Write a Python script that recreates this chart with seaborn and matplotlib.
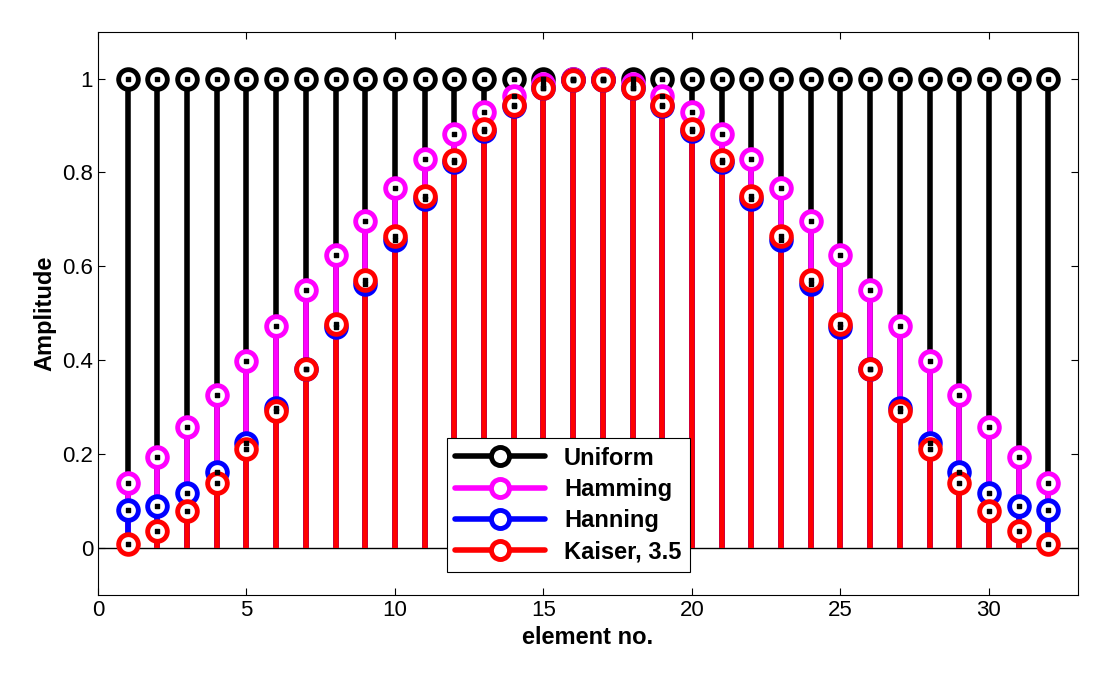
import numpy as np
import pandas as pd
import seaborn as sns
import matplotlib
matplotlib.use("Agg")
import matplotlib.pyplot as plt
from matplotlib.lines import Line2D

elements = list(range(1, 33))
half_hamming = [0.137, 0.194, 0.257, 0.325, 0.398, 0.473, 0.550, 0.624,
                0.697, 0.766, 0.828, 0.883, 0.928, 0.963, 0.988, 0.999]
half_hanning = [0.080, 0.089, 0.117, 0.162, 0.223, 0.297, 0.380, 0.470,
                0.563, 0.655, 0.743, 0.822, 0.889, 0.942, 0.979, 0.998]
half_kaiser = [0.009, 0.036, 0.079, 0.138, 0.210, 0.292, 0.382, 0.476,
               0.571, 0.664, 0.750, 0.827, 0.893, 0.944, 0.980, 0.998]
uniform = [1.0] * 32
hamming = half_hamming + half_hamming[::-1]
hanning = half_hanning + half_hanning[::-1]
kaiser = half_kaiser + half_kaiser[::-1]

series = [("Uniform", uniform, "black"),
          ("Hamming", hamming, "magenta"),
          ("Hanning", hanning, "blue"),
          ("Kaiser, 3.5", kaiser, "red")]

sns.set_style("white")
plt.rcParams['font.family'] = ['Liberation Sans', 'DejaVu Sans']
plt.rcParams['text.color'] = 'black'
plt.rcParams['axes.labelcolor'] = 'black'
plt.rcParams['xtick.color'] = 'black'
plt.rcParams['ytick.color'] = 'black'

fig = plt.figure(figsize=(11, 6.75), dpi=100)
ax = fig.add_axes([0.089, 0.119, 0.891, 0.834])

handles = []
for name, vals, col in series:
    ax.vlines(elements, 0, vals, color=col, linewidth=4, zorder=2)
    df = pd.DataFrame({"x": elements, "y": vals})
    sns.scatterplot(data=df, x="x", y="y", ax=ax, s=200, marker="o",
                    facecolor="white", edgecolor=col, linewidth=3.5, zorder=3)
    ax.scatter(elements, vals, s=5, marker="s", color="black", zorder=4)
    handles.append(Line2D([], [], color=col, linewidth=4, marker="o", markersize=13,
                          markerfacecolor="white", markeredgecolor=col, markeredgewidth=3.5))

ax.axhline(0, color="black", linewidth=1, zorder=1)
ax.set_xlim(0, 33)
ax.set_ylim(-0.1, 1.1)
ax.set_xticks([0, 5, 10, 15, 20, 25, 30])
ax.set_yticks([0, 0.2, 0.4, 0.6, 0.8, 1.0])
ax.set_yticklabels(["0", "0.2", "0.4", "0.6", "0.8", "1"])
ax.tick_params(labelsize=16, direction="in", length=5, left=True, bottom=True, top=True, right=True)
ax.set_xlabel("element no.", fontsize=17, fontweight="bold")
ax.set_ylabel("Amplitude", fontsize=17, fontweight="bold")
for sp in ax.spines.values():
    sp.set_color("black")
    sp.set_linewidth(0.8)

leg = ax.legend(handles, [s[0] for s in series], loc="lower center",
                bbox_to_anchor=(0.48, 0.02), frameon=True, framealpha=1,
                fancybox=False, edgecolor="black", handlelength=3.8,
                prop={"weight": "bold", "size": 17}, borderpad=0.35, labelspacing=0.35)
leg.get_frame().set_linewidth(0.8)
leg.set_zorder(10)

fig.savefig("out.png", dpi=100, facecolor="white")
